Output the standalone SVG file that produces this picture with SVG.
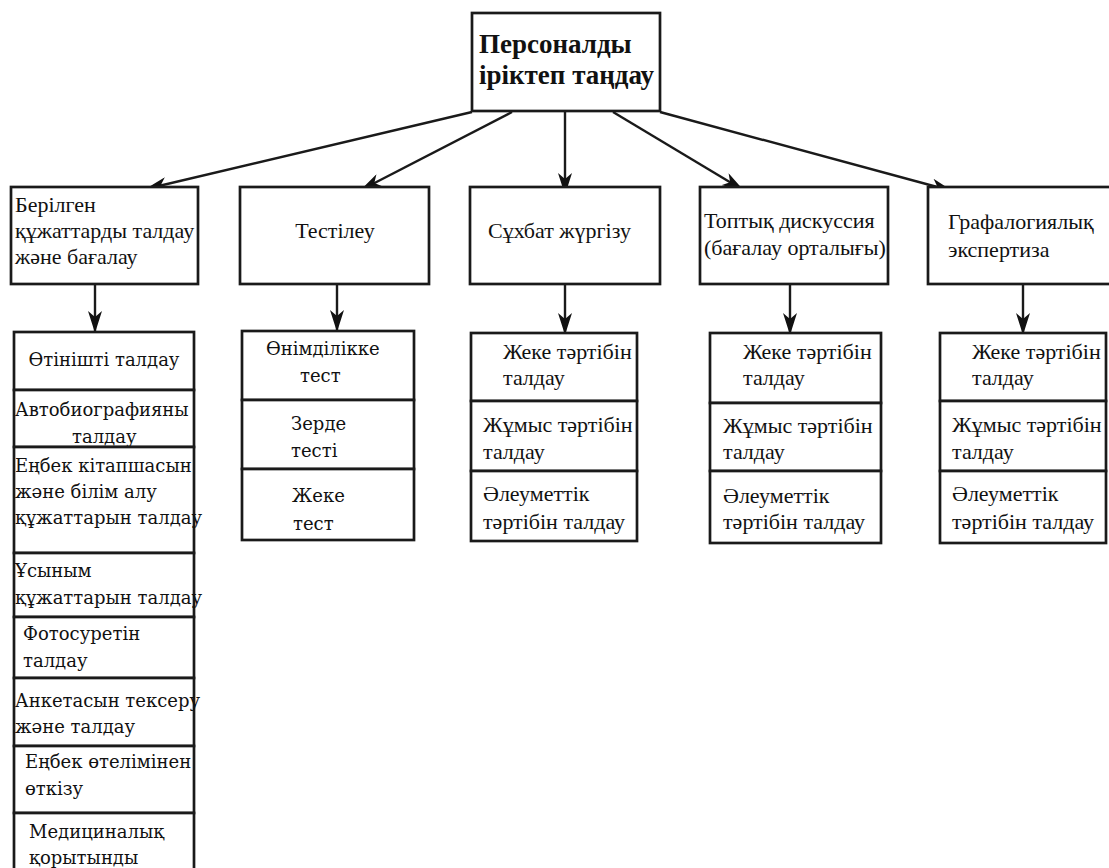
<svg xmlns="http://www.w3.org/2000/svg" width="1109" height="868" viewBox="0 0 1109 868">
<defs>
<style>
.box{fill:#fff;stroke:#1a1a1a;stroke-width:2.7}
.t{font-family:'Liberation Serif','Times New Roman',serif;font-size:22px;fill:#111}
.t2{font-family:'DejaVu Serif','Liberation Serif',serif;font-size:18px;fill:#111}
.tb{font-family:'Liberation Serif','Times New Roman',serif;font-size:27px;font-weight:bold;fill:#111}
.c{stroke:#1a1a1a;stroke-width:2.4;fill:none;marker-end:url(#ah)}
</style>
<marker id="ah" viewBox="0 0 22 14" refX="21" refY="7" markerWidth="22" markerHeight="14" markerUnits="userSpaceOnUse" orient="auto">
<path d="M0,0 L22,7 L0,14 L6,7 Z" fill="#111"/>
</marker>
</defs>
<rect width="1109" height="868" fill="#fff"/>

<g id="connectors">
<line class="c" x1="472" y1="112" x2="146" y2="189"/>
<line class="c" x1="512" y1="112" x2="361" y2="190"/>
<line class="c" x1="565" y1="112" x2="565" y2="194"/>
<line class="c" x1="613" y1="112" x2="743" y2="190"/>
<line class="c" x1="660" y1="112" x2="952" y2="191"/>
<line class="c" x1="95" y1="285" x2="95" y2="332"/>
<line class="c" x1="337" y1="285" x2="337" y2="331"/>
<line class="c" x1="565" y1="285" x2="565" y2="334"/>
<line class="c" x1="790" y1="285" x2="790" y2="334"/>
<line class="c" x1="1023" y1="285" x2="1023" y2="334"/>
</g>

<g id="root">
<rect class="box" x="472" y="13" width="188" height="98"/>
<text class="tb" x="479" y="53">Персоналды</text>
<text class="tb" x="479" y="84">іріктеп таңдау</text>
</g>

<g id="n1">
<rect class="box" x="11" y="187" width="187" height="97"/>
<text class="t" x="15" y="212">Берілген</text>
<text class="t" x="15" y="238">құжаттарды талдау</text>
<text class="t" x="15" y="264">және бағалау</text>
</g>
<g id="n2">
<rect class="box" x="240" y="187" width="189" height="97"/>
<text class="t" x="335" y="238" text-anchor="middle">Тестілеу</text>
</g>
<g id="n3">
<rect class="box" x="470" y="187" width="190" height="97"/>
<text class="t" x="488" y="238">Сұхбат жүргізу</text>
</g>
<g id="n4">
<rect class="box" x="700" y="187" width="188" height="97"/>
<text class="t" x="704" y="228">Топтық дискуссия</text>
<text class="t" x="704" y="255">(бағалау орталығы)</text>
</g>
<g id="n5">
<rect class="box" x="928" y="187" width="185" height="97"/>
<text class="t" x="948" y="229">Графалогиялық</text>
<text class="t" x="948" y="257">экспертиза</text>
</g>

<g id="docs">
<rect class="box" x="14" y="332" width="180" height="58"/>
<text class="t2" x="104" y="366" text-anchor="middle">Өтінішті талдау</text>
<rect class="box" x="14" y="390" width="180" height="57"/>
<text class="t2" x="15" y="416">Автобиографияны</text>
<text class="t2" x="72" y="443">талдау</text>
<rect class="box" x="14" y="447" width="180" height="106"/>
<text class="t2" x="15" y="472">Еңбек кітапшасын</text>
<text class="t2" x="15" y="498">және білім алу</text>
<text class="t2" x="15" y="524">құжаттарын талдау</text>
<rect class="box" x="14" y="553" width="180" height="64"/>
<text class="t2" x="15" y="577">Ұсыным</text>
<text class="t2" x="15" y="604">құжаттарын талдау</text>
<rect class="box" x="14" y="617" width="180" height="61"/>
<text class="t2" x="23" y="640">Фотосуретін</text>
<text class="t2" x="23" y="667">талдау</text>
<rect class="box" x="14" y="678" width="180" height="68"/>
<text class="t2" x="15" y="707">Анкетасын тексеру</text>
<text class="t2" x="15" y="733">және талдау</text>
<rect class="box" x="14" y="746" width="180" height="67"/>
<text class="t2" x="25" y="768">Еңбек өтелімінен</text>
<text class="t2" x="25" y="795">өткізу</text>
<rect class="box" x="14" y="813" width="180" height="70"/>
<text class="t2" x="29" y="838">Медициналық</text>
<text class="t2" x="29" y="864">қорытынды</text>
</g>

<g id="tests">
<rect class="box" x="242" y="331" width="172" height="69"/>
<text class="t2" x="266" y="355">Өнімділікке</text>
<text class="t2" x="300" y="382">тест</text>
<rect class="box" x="242" y="400" width="172" height="69"/>
<text class="t2" x="291" y="430">Зерде</text>
<text class="t2" x="291" y="457">тесті</text>
<rect class="box" x="242" y="469" width="172" height="71"/>
<text class="t2" x="292" y="502">Жеке</text>
<text class="t2" x="293" y="530">тест</text>
</g>

<g id="interview">
<rect class="box" x="471" y="333" width="166" height="68"/>
<text class="t" x="503" y="359">Жеке тәртібін</text>
<text class="t" x="503" y="385">талдау</text>
<rect class="box" x="471" y="401" width="166" height="70"/>
<text class="t" x="483" y="432">Жұмыс тәртібін</text>
<text class="t" x="483" y="459">талдау</text>
<rect class="box" x="471" y="471" width="166" height="70"/>
<text class="t" x="483" y="501">Әлеуметтік</text>
<text class="t" x="483" y="529">тәртібін талдау</text>
</g>

<g id="group">
<rect class="box" x="710" y="333" width="171" height="70"/>
<text class="t" x="743" y="359">Жеке тәртібін</text>
<text class="t" x="743" y="385">талдау</text>
<rect class="box" x="710" y="403" width="171" height="68"/>
<text class="t" x="723" y="433">Жұмыс тәртібін</text>
<text class="t" x="723" y="459">талдау</text>
<rect class="box" x="710" y="471" width="171" height="72"/>
<text class="t" x="723" y="503">Әлеуметтік</text>
<text class="t" x="723" y="529">тәртібін талдау</text>
</g>

<g id="grapho">
<rect class="box" x="940" y="333" width="166" height="68"/>
<text class="t" x="972" y="359">Жеке тәртібін</text>
<text class="t" x="972" y="385">талдау</text>
<rect class="box" x="940" y="401" width="166" height="70"/>
<text class="t" x="952" y="432">Жұмыс тәртібін</text>
<text class="t" x="952" y="459">талдау</text>
<rect class="box" x="940" y="471" width="166" height="72"/>
<text class="t" x="952" y="501">Әлеуметтік</text>
<text class="t" x="952" y="529">тәртібін талдау</text>
</g>
</svg>
